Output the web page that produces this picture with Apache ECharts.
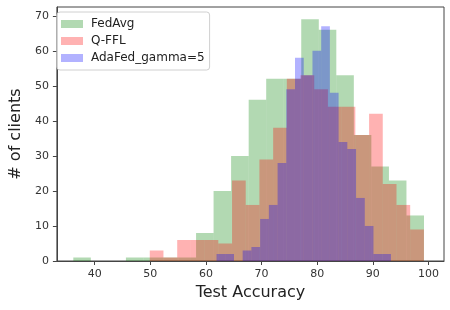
<!DOCTYPE html>
<html>
<head>
<meta charset="utf-8">
<script src="https://cdn.jsdelivr.net/npm/echarts@6/dist/echarts.min.js"></script>
<style>
html,body{margin:0;padding:0;background:#fff;}
#chart{width:450px;height:310px;}
</style>
</head>
<body>
<div id="chart"></div>
<script>
// ---- data ----
const seriesNames = ['FedAvg', 'Q-FFL', 'AdaFed_gamma=5'];
const xTicks = [40, 50, 60, 70, 80, 90, 100];
const yTicks = [0, 10, 20, 30, 40, 50, 60, 70];

const fedAvgEdges = [36.15, 39.30, 42.45, 45.61, 48.76, 51.91, 55.06, 58.22, 61.37, 64.52, 67.68,
                     70.83, 73.98, 77.13, 80.29, 83.44, 86.59, 89.74, 92.90, 96.05, 99.20];
const fedAvgCounts = [1, 0, 0, 1, 1, 1, 1, 8, 20, 30, 46, 52, 52, 69, 66, 53, 36, 27, 23, 13];

const qfflEdges = [49.90, 52.36, 54.83, 57.29, 59.76, 62.22, 64.69, 67.15, 69.61, 72.08, 74.54,
                   77.01, 79.47, 81.93, 84.40, 86.86, 89.33, 91.79, 94.26, 96.72, 99.19];
const qfflCounts = [3, 1, 6, 6, 6, 5, 23, 16, 29, 38, 52, 53, 49, 44, 44, 36, 42, 22, 16, 9];

const adaEdges = [61.90, 63.47, 65.04, 66.60, 68.17, 69.74, 71.31, 72.88, 74.44, 76.01, 77.58,
                  79.15, 80.72, 82.28, 83.85, 85.42, 86.99, 88.56, 90.12, 91.69, 93.26];
const adaCounts = [2, 2, 0, 3, 4, 12, 16, 28, 49, 58, 53, 60, 67, 48, 34, 32, 18, 10, 2, 2];

const colors = ['rgba(0,128,0,0.3)', 'rgba(255,0,0,0.3)', 'rgba(0,0,255,0.3)'];

function toBins(edges, counts) {
  return counts.map((c, i) => [edges[i], edges[i + 1], c]);
}

function renderBar(fill) {
  return function (params, api) {
    const h = api.value(2);
    if (!h) return null;
    const p0 = api.coord([api.value(0), h]);
    const p1 = api.coord([api.value(1), 0]);
    return {
      type: 'rect',
      shape: { x: p0[0], y: p0[1], width: p1[0] - p0[0], height: p1[1] - p0[1] },
      style: { fill: fill }
    };
  };
}

const binsList = [toBins(fedAvgEdges, fedAvgCounts), toBins(qfflEdges, qfflCounts), toBins(adaEdges, adaCounts)];

const chart = echarts.init(document.getElementById('chart'), null, { renderer: 'canvas' });
const font = 'DejaVu Sans';
chart.setOption({
  animation: false,
  backgroundColor: '#fff',
  textStyle: { fontFamily: font },
  grid: { left: 52, right: 6, top: 7, bottom: 49, show: true, borderColor: '#444', borderWidth: 1, backgroundColor: '#fff' },
  legend: {
    orient: 'vertical',
    left: 57, top: 12,
    icon: 'rect',
    itemWidth: 22, itemHeight: 8,
    itemGap: 3,
    padding: [5, 5, 5, 4],
    borderColor: '#d0d0d0', borderWidth: 1, borderRadius: 3,
    backgroundColor: 'rgba(255,255,255,0.8)',
    textStyle: { fontFamily: font, fontSize: 12, color: '#222', lineHeight: 14, padding: [0, 0, 0, 3] },
    data: seriesNames.map((n, i) => ({ name: n, itemStyle: { color: colors[i] } }))
  },
  xAxis: {
    type: 'value', min: 33.2, max: 102.8,
    name: 'Test Accuracy', nameLocation: 'middle', nameGap: 24,
    nameTextStyle: { fontFamily: font, fontSize: 16, color: '#222' },
    splitLine: { show: false },
    axisLine: { show: true, lineStyle: { color: '#444', width: 1 } },
    axisTick: { show: true, length: 4, lineStyle: { color: '#444' }, customValues: xTicks },
    axisLabel: { fontFamily: font, fontSize: 11, color: '#333', margin: 8, customValues: xTicks }
  },
  yAxis: {
    type: 'value', min: 0, max: 72.5,
    name: '# of clients', nameLocation: 'middle', nameGap: 32,
    nameTextStyle: { fontFamily: font, fontSize: 16, color: '#222' },
    splitLine: { show: false },
    axisLine: { show: true, lineStyle: { color: '#444', width: 1 } },
    axisTick: { show: true, length: 4, lineStyle: { color: '#444' }, customValues: yTicks },
    axisLabel: { fontFamily: font, fontSize: 11, color: '#333', margin: 8, customValues: yTicks }
  },
  series: seriesNames.map((n, i) => ({
    name: n,
    type: 'custom',
    renderItem: renderBar(colors[i]),
    itemStyle: { color: colors[i] },
    encode: { x: [0, 1], y: 2 },
    data: binsList[i],
    clip: true
  }))
});
</script>
</body>
</html>
